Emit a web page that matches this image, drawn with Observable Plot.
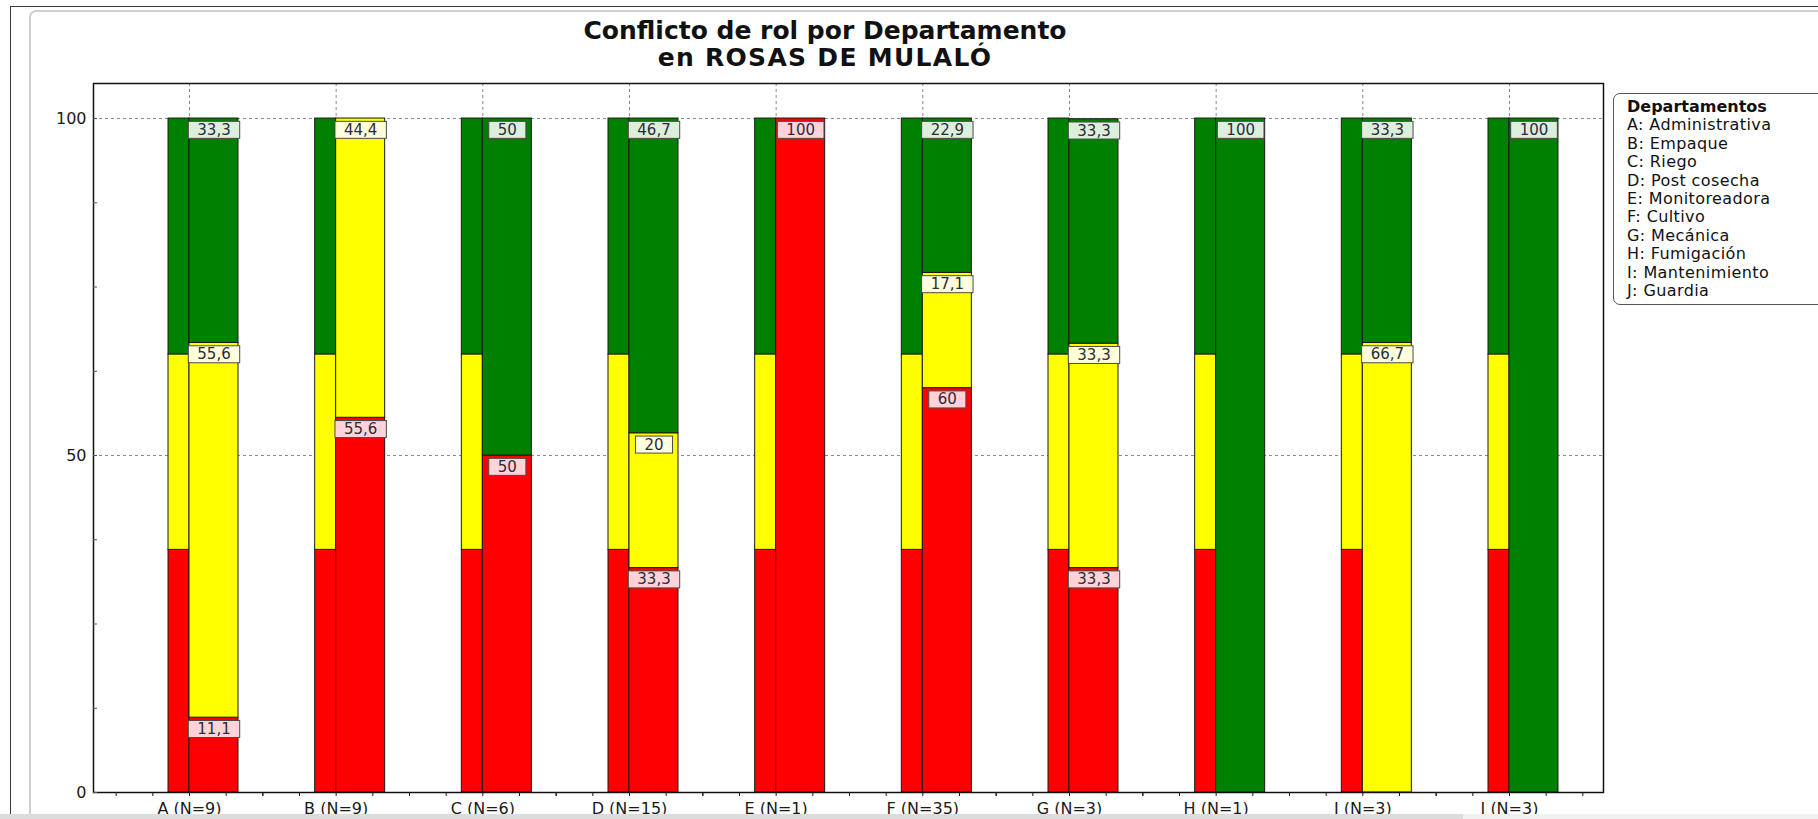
<!DOCTYPE html>
<html>
<head>
<meta charset="utf-8">
<script src="https://cdn.jsdelivr.net/npm/d3@7"></script>
<script src="https://cdn.jsdelivr.net/npm/@observablehq/plot@0.6"></script>
<style>
  body { margin: 0; background: #fff; }
  #wrap { position: relative; width: 1818px; height: 819px; overflow: hidden; font-family: "DejaVu Sans", Verdana, sans-serif; background: #fff; }
  #outer1 { position: absolute; left: 10px; top: 6px; width: 1900px; height: 900px; border: 1px solid #3a3a3a; }
  #outer2 { position: absolute; left: 29px; top: 10px; width: 1900px; height: 900px; border: 2px solid #cfcfcf; border-radius: 7px; }
  #chart { position: absolute; left: 0; top: 0; }
  #title { position: absolute; left: 0; width: 1650px; top: 17px; text-align: center; font-weight: bold; font-size: 25px; line-height: 27px; color: #111; }
  #title .l2 { letter-spacing: 1.3px; }
  #legend { position: absolute; left: 1613px; top: 93px; width: 240px; height: 202px; border: 1px solid #555; border-radius: 7px; padding: 4px 0 4px 13px; font-size: 16px; line-height: 18.4px; color: #111; background: #fff; }
  #legend .head { font-weight: bold; }
  #legend .item { letter-spacing: 0.4px; }
  #bottombar1 { position: absolute; left: 0; top: 814px; width: 1463px; height: 5px; background: #dcdcdc; }
  #bottombar2 { position: absolute; left: 1463px; top: 814px; width: 400px; height: 5px; background: #f0f0f0; }
</style>
</head>
<body>
<div id="wrap">
  <div id="outer1"></div>
  <div id="outer2"></div>
  <div id="chart"></div>
  <div id="title"></div>
  <div id="legend"></div>
  <div id="bottombar1"></div>
  <div id="bottombar2"></div>
</div>
<script>
// ---- Data ----
const departments = ["A (N=9)", "B (N=9)", "C (N=6)", "D (N=15)", "E (N=1)", "F (N=35)", "G (N=3)", "H (N=1)", "I (N=3)", "J (N=3)"];
const legendTitle = "Departamentos";
const legendLabels = ["A: Administrativa", "B: Empaque", "C: Riego", "D: Post cosecha", "E: Monitoreadora", "F: Cultivo", "G: Mecánica", "H: Fumigación", "I: Mantenimiento", "J: Guardia"];
const titleLines = ["Conflicto de rol por Departamento", "en ROSAS DE MULALÓ"];
const levels = ["rojo", "amarillo", "verde"];
const levelColors = ["#ff0000", "#ffff00", "#008000"];
const labelBoxColors = ["#ffd3d8", "#ffffdc", "#dcefdc"];
const redValues    = [11.1, 55.6, 50, 33.3, 100, 60, 33.3, 0, 0, 0];
const yellowValues = [55.6, 44.4, 0, 20, 0, 17.1, 33.3, 0, 66.7, 0];
const greenValues  = [33.3, 0, 50, 46.7, 0, 22.9, 33.3, 100, 33.3, 100];
const referenceValues = [36, 29, 35]; // narrow reference bar (rojo, amarillo, verde)
const yTicks = [0, 50, 100];

// ---- Build tables ----
const seriesValues = [redValues, yellowValues, greenValues];
const deptData = [];
departments.forEach((d, i) => {
  levels.forEach((lv, k) => deptData.push({dept: d, level: lv, value: seriesValues[k][i]}));
});
const refData = [];
departments.forEach(d => levels.forEach((lv, k) => refData.push({dept: d, level: lv, value: referenceValues[k]})));
const labelData = deptData.filter(d => d.value > 0);
const fmt = v => String(v).replace(".", ",");

// ---- Title & legend ----
document.getElementById("title").innerHTML = `<span>${titleLines[0]}</span><br><span class="l2">${titleLines[1]}</span>`;
const legend = document.getElementById("legend");
legend.innerHTML = `<div class="head">${legendTitle}</div>` + legendLabels.map(t => `<div class="item">${t}</div>`).join("");

// ---- Chart ----
const step = 146.67;
const half = step / 2;
const narrowW = 21, wideW = 49;
const gridStyle = {stroke: "#8a8a8a", strokeOpacity: 1, strokeDasharray: "3,3", strokeWidth: 1};
const blank = () => "";

const chart = Plot.plot({
  width: 1818,
  height: 819,
  marginLeft: 93,
  marginRight: 215,
  marginTop: 83,
  marginBottom: 27,
  style: {fontFamily: "DejaVu Sans, Verdana, sans-serif", fontSize: "16px", color: "#1a1a1a", background: "transparent"},
  x: {type: "band", domain: departments, paddingInner: 0, paddingOuter: 0, round: false, insetLeft: 22.67, insetRight: 20.67, label: null},
  y: {domain: [0, 105.2], label: null},
  color: {domain: levels, range: levelColors},
  marks: [
    Plot.gridY(yTicks.filter(t => t > 0), gridStyle),
    Plot.gridX(gridStyle),
    Plot.barY(refData, {x: "dept", y: "value", z: "level", fill: "level", stroke: "#1a1a1a", strokeWidth: 1,
      insetLeft: half - narrowW, insetRight: half}),
    Plot.barY(deptData, {x: "dept", y: "value", z: "level", fill: "level", stroke: "#1a1a1a", strokeWidth: 1,
      insetLeft: half, insetRight: half - wideW}),
    Plot.text(labelData, Plot.stackY2({x: "dept", y: "value", z: "level", text: d => fmt(d.value),
      dx: wideW / 2, dy: 11.5, fontSize: 15, fill: "#2b2b3b", textAnchor: "middle", lineAnchor: "middle"})),
    Plot.frame({stroke: "#111", strokeWidth: 1.5}),
    Plot.axisY(yTicks, {tickSize: 0, tickPadding: 7, fontSize: 16}),
    Plot.axisY(d3.range(0, 101, 12.5), {tickSize: 4, dx: 4, tickFormat: blank, stroke: "#555"}),
    Plot.axisX({tickSize: 4, tickPadding: 6, fontSize: 16}),
    Plot.axisX({tickSize: 4, dx: -half, tickFormat: blank}),
    Plot.axisX({tickSize: 4, dx: -half / 2, tickFormat: blank}),
    Plot.axisX({tickSize: 4, dx: half / 2, tickFormat: blank}),
    Plot.axisX({tickSize: 4, dx: half, tickFormat: blank})
  ]
});
document.getElementById("chart").appendChild(chart);

// ---- Label boxes behind the value labels ----
const svgNS = "http://www.w3.org/2000/svg";
const textGroups = Array.from(chart.querySelectorAll('g[aria-label="text"]'));
textGroups.forEach(g => {
  const texts = Array.from(g.querySelectorAll("text"));
  texts.forEach((t, i) => {
    const bb = t.getBBox();
    const lv = labelData[i] ? labelData[i].level : levels[0];
    const rect = document.createElementNS(svgNS, "rect");
    const cy = bb.y + bb.height / 2;
    rect.setAttribute("x", bb.x - 9);
    rect.setAttribute("y", cy - 8.5);
    rect.setAttribute("width", bb.width + 18);
    rect.setAttribute("height", 17);
    rect.setAttribute("fill", labelBoxColors[levels.indexOf(lv)]);
    rect.setAttribute("stroke", "#4a4a4a");
    rect.setAttribute("stroke-width", 1);
    const tr = t.getAttribute("transform");
    if (tr) rect.setAttribute("transform", tr);
    t.parentNode.insertBefore(rect, t);
  });
});
</script>
</body>
</html>
